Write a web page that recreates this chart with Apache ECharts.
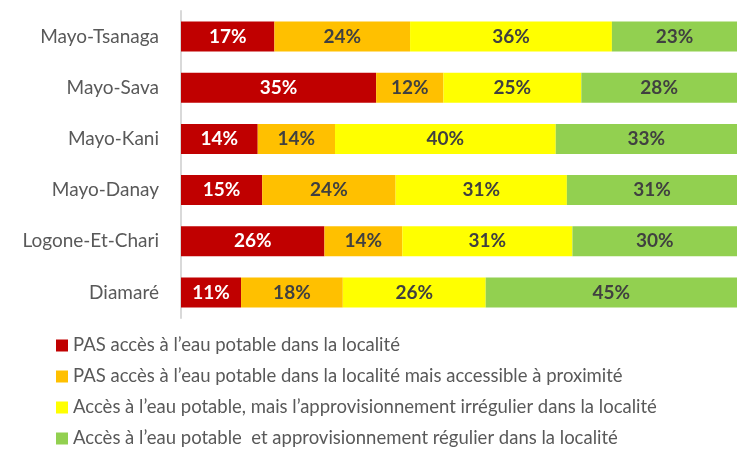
<!DOCTYPE html>
<html>
<head>
<meta charset="utf-8">
<script src="https://cdn.jsdelivr.net/npm/echarts@6/dist/echarts.min.js"></script>
<style>
  html, body { margin: 0; padding: 0; background: #fff; }
  #chart { width: 741px; height: 449px; }
</style>
</head>
<body>
<div id="chart"></div>
<script>
// Départements (haut vers bas)
const categories = ['Mayo-Tsanaga', 'Mayo-Sava', 'Mayo-Kani', 'Mayo-Danay', 'Logone-Et-Chari', 'Diamaré']

// Parts (%)
const pasAcces = [16.8, 35.1, 13.8, 14.6, 25.8, 10.8]
const pasAccesProximite = [24.4, 12.1, 13.9, 24.0, 14.0, 18.3]
const accesIrregulier = [36.3, 24.8, 39.7, 30.8, 30.6, 25.7]
const accesRegulier = [22.5, 28.0, 32.6, 30.6, 29.6, 45.2]

const seriesNames = [
  'PAS accès à l’eau potable dans la localité',
  'PAS accès à l’eau potable dans la localité mais accessible à proximité',
  'Accès à l’eau potable, mais l’approvisionnement irrégulier dans la localité',
  'Accès à l’eau potable  et approvisionnement régulier dans la localité'
]
const colors = ['#C00000', '#FFC000', '#FFFF00', '#92D050']
const labelColors = ['#ffffff', '#404040', '#404040', '#404040']

const FONT = 'Lato, "Open Sans", sans-serif'

let chart = echarts.init(document.getElementById('chart'))

// construire les séries empilées
const series = [pasAcces, pasAccesProximite, accesIrregulier, accesRegulier].map((data, i) => ({
  name: seriesNames[i],
  type: 'bar',
  stack: 'total',
  barWidth: 30,
  data: data,
  itemStyle: { color: colors[i] },
  label: {
    show: true,
    position: 'inside',
    formatter: p => Math.round(p.value) + '%',
    color: labelColors[i],
    fontFamily: FONT,
    fontWeight: 'bold',
    fontSize: 19
  }
}))

chart.setOption({
  animation: false,
  grid: { left: 181, right: 4, top: 11, height: 307 },
  xAxis: {
    type: 'value',
    min: 0,
    max: 100,
    show: false
  },
  yAxis: {
    type: 'category',
    data: categories,
    inverse: true,
    axisLine: { show: true, lineStyle: { color: '#d9d9d9', width: 2 } },
    axisTick: { show: false },
    axisLabel: { color: '#595959', fontFamily: FONT, fontSize: 19, margin: 22 }
  },
  legend: {
    orient: 'vertical',
    left: 56,
    top: 336,
    height: 140,
    padding: 0,
    itemWidth: 12,
    itemHeight: 12,
    itemGap: 12,
    icon: 'rect',
    textStyle: { color: '#595959', fontFamily: FONT, fontSize: 18.5, lineHeight: 18 },
    data: seriesNames
  },
  series: series
})
</script>
</body>
</html>
